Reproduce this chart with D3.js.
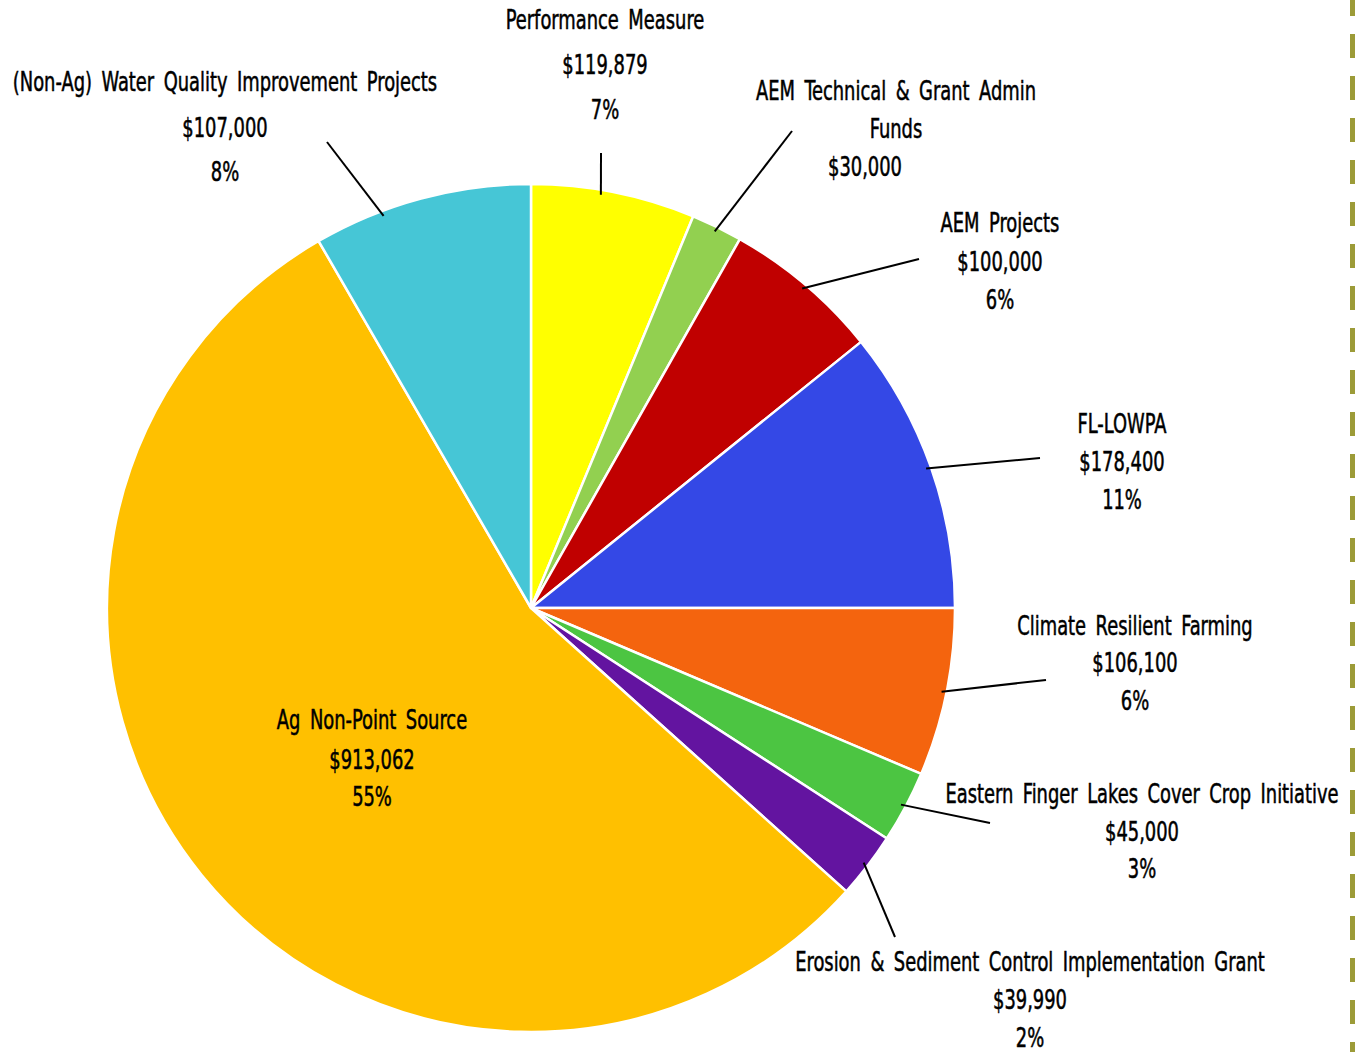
<!DOCTYPE html>
<html>
<head>
<meta charset="utf-8">
<script src="https://cdn.jsdelivr.net/npm/d3@7"></script>
<style>
  html, body { margin: 0; padding: 0; background: #fff; }
  svg text { font-family: "DejaVu Sans Condensed", "DejaVu Sans", sans-serif; fill: #000; stroke: #000; stroke-width: 0.5; }
</style>
</head>
<body>
<div id="chart"></div>
<script>
// slices, clockwise from 12 o'clock
const names = [
  "Performance Measure",
  "AEM Technical & Grant Admin\nFunds",
  "AEM Projects",
  "FL-LOWPA",
  "Climate Resilient Farming",
  "Eastern Finger Lakes Cover Crop Initiative",
  "Erosion & Sediment Control Implementation Grant",
  "Ag Non-Point Source",
  "(Non-Ag) Water Quality Improvement Projects"
];
const amounts = [119879, 30000, 100000, 178400, 106100, 45000, 39990, 913062, 107000];
const percentLabels = ["7%", null, "6%", "11%", "6%", "3%", "2%", "55%", "8%"];
// slice sizes as drawn (percent of circle)
const shares = [6.25, 1.95, 6.0, 10.8, 6.4, 2.75, 2.5, 55.0, 8.35];
const colors = ["#ffff00", "#92d050", "#c00000", "#3448e6", "#f4640e", "#4cc542", "#6314a0", "#ffc000", "#46c6d6"];

// label placement: centre x, line centres y, leader end point, optional rim angle for the leader
const labelPos = [
  { x: 605, ys: [20, 65, 110], lead: [601, 153], at: 9.6 },
  { x: 896, ys: [91, 129, 167], lead: [792, 131], amountX: 865 },
  { x: 1000, ys: [223, 262, 300], lead: [919, 259] },
  { x: 1122, ys: [424, 462, 500], lead: [1040, 458] },
  { x: 1135, ys: [626, 663, 701], lead: [1046, 680] },
  { x: 1142, ys: [794, 832, 869], lead: [990, 823] },
  { x: 1030, ys: [962, 1000, 1038], lead: [895, 937] },
  { x: 372, ys: [720, 760, 797], lead: null },
  { x: 225, ys: [82, 128, 172], lead: [327, 142], at: 339.4 }
];

const width = 1355;
const height = 1052;
const cx = 531, cy = 608, radius = 424;
const squeeze = 0.765;

const svg = d3.select("#chart")
  .append("svg")
  .attr("width", width)
  .attr("height", height);

const data = names.map((n, i) => ({ name: n, amount: amounts[i], pct: percentLabels[i], share: shares[i], color: colors[i], pos: labelPos[i] }));

const pie = d3.pie().sort(null).value(d => d.share);
const arcs = pie(data);
const arc = d3.arc().innerRadius(0).outerRadius(radius);
const rimR = radius - 5;

function rimPoint(d) {
  const a = d.data.pos.at != null ? d.data.pos.at * Math.PI / 180 : (d.startAngle + d.endAngle) / 2;
  return [rimR * Math.sin(a), -rimR * Math.cos(a)];
}

const g = svg.append("g").attr("transform", `translate(${cx},${cy})`);

g.selectAll("path")
  .data(arcs)
  .join("path")
  .attr("d", arc)
  .attr("fill", d => d.data.color)
  .attr("stroke", "#fff")
  .attr("stroke-width", 2.5)
  .attr("stroke-linejoin", "round");

// leader lines
g.selectAll("line.leader")
  .data(arcs.filter(d => d.data.pos.lead))
  .join("line")
  .attr("class", "leader")
  .attr("x1", d => rimPoint(d)[0])
  .attr("y1", d => rimPoint(d)[1])
  .attr("x2", d => d.data.pos.lead[0] - cx)
  .attr("y2", d => d.data.pos.lead[1] - cy)
  .attr("stroke", "#000")
  .attr("stroke-width", 2);

const fmt = d3.format("$,");

// labels
data.forEach(d => {
  const lines = d.name.split("\n").map(t => ({ t, x: d.pos.x }));
  lines.push({ t: fmt(d.amount), x: d.pos.amountX || d.pos.x });
  if (d.pct) lines.push({ t: d.pct, x: d.pos.x });
  svg.append("g")
    .selectAll("text")
    .data(lines)
    .join("text")
    .attr("transform", (l, i) => `translate(${l.x},${d.pos.ys[i]}) scale(${squeeze},1)`)
    .attr("text-anchor", "middle")
    .attr("dominant-baseline", "central")
    .attr("font-size", 26)
    .attr("word-spacing", 5)
    .text(l => l.t);
});

// dashed rule on the right edge
svg.append("line")
  .attr("x1", 1352.5).attr("x2", 1352.5)
  .attr("y1", 0).attr("y2", height)
  .attr("stroke", "#9c9b38")
  .attr("stroke-width", 5)
  .attr("stroke-dasharray", "24 18")
  .attr("stroke-dashoffset", 8);
</script>
</body>
</html>
